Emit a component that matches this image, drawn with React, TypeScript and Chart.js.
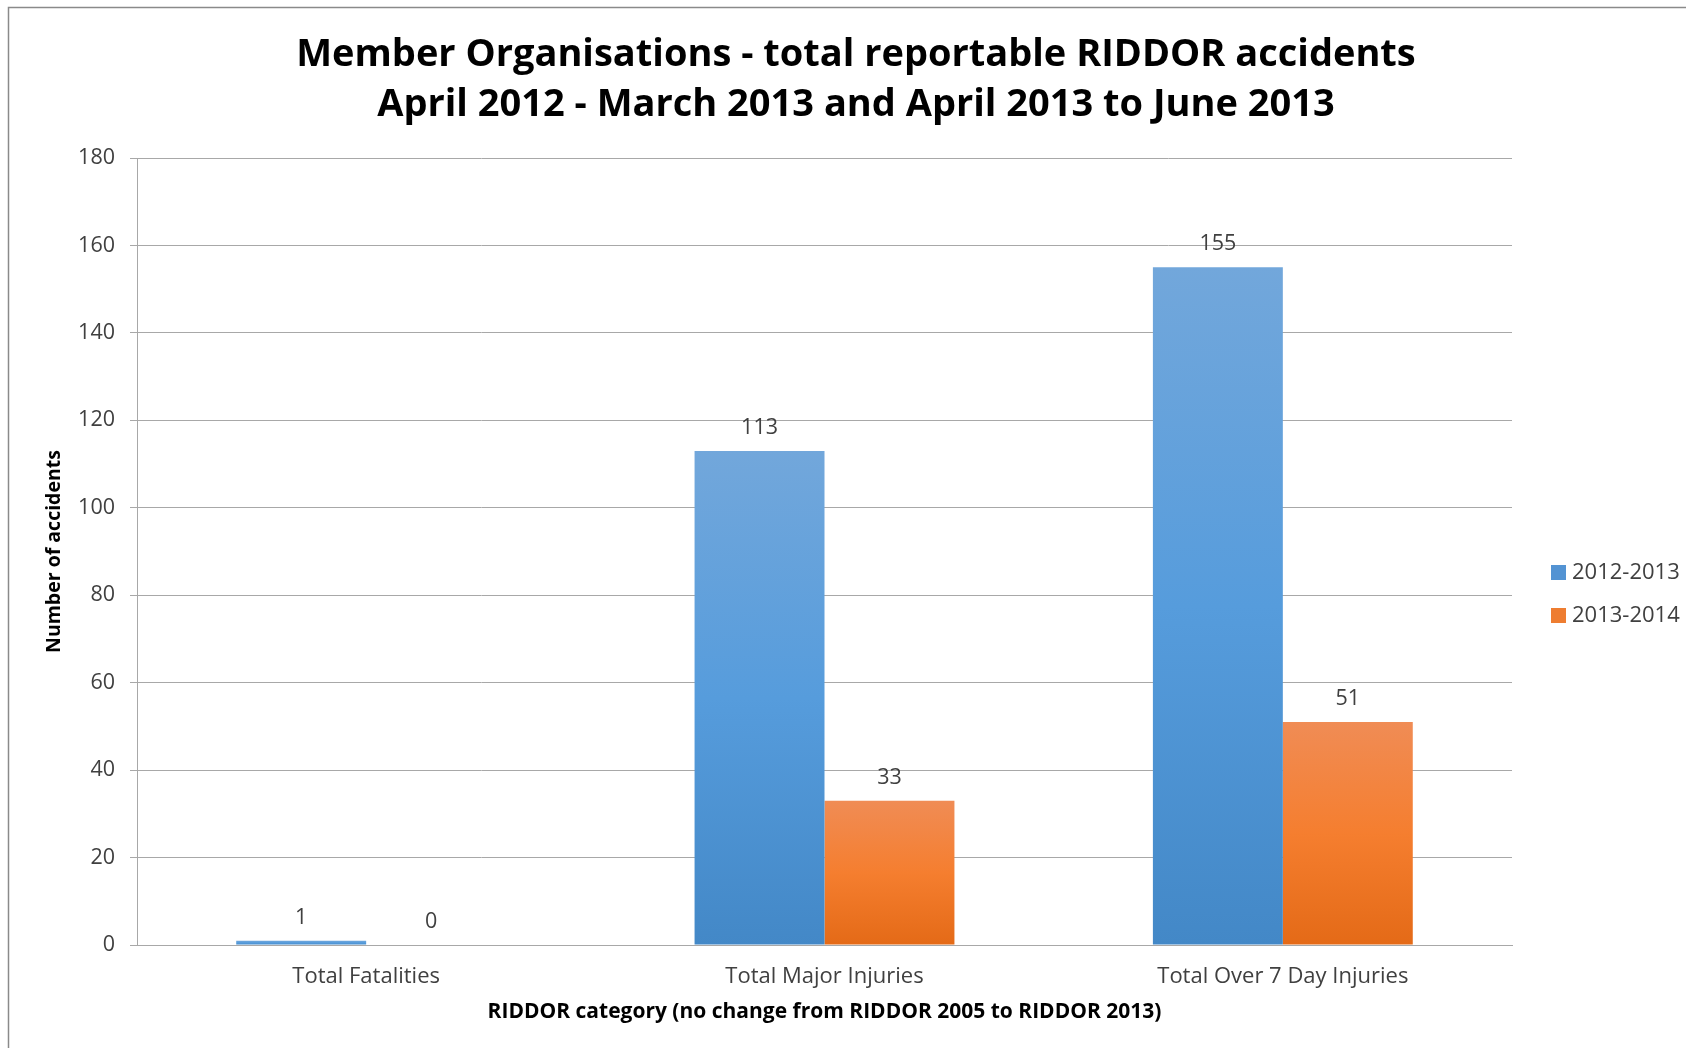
import React, { useEffect, useRef } from "react";
import { Chart, registerables } from "chart.js";

Chart.register(...registerables);

const titleLines = [
  "Member Organisations - total reportable RIDDOR accidents",
  "April 2012 - March 2013 and April 2013 to June 2013",
];
const categories = ["Total Fatalities", "Total Major Injuries", "Total Over 7 Day Injuries"];
const seriesNames = ["2012-2013", "2013-2014"];
const values2012 = [1, 113, 155];
const values2013 = [0, 33, 51];
const yTicks = [0, 20, 40, 60, 80, 100, 120, 140, 160, 180];
const xTitle = "RIDDOR category (no change from RIDDOR 2005 to RIDDOR 2013)";
const yTitle = "Number of accidents";

const FONT = "'Open Sans', Lato, 'Noto Sans', sans-serif";
const TEXT = "#404040";
const GRID = "#a8a8a8";

const blueStops = ["#72a7db", "#569cdc", "#4388c7"];
const orangeStops = ["#f08c55", "#f57e2f", "#e46a17"];
const legendColors = ["#5393d3", "#ee7d31"];

function gradientFill(stops: string[], solid: string) {
  return (ctx: any) => {
    const chart = ctx.chart;
    if (ctx.type !== "data" || !chart.chartArea || !chart.scales.y) return solid;
    const y = chart.scales.y;
    const top = y.getPixelForValue(ctx.raw);
    const bottom = y.getPixelForValue(0);
    if (!isFinite(top) || Math.abs(bottom - top) < 1) return solid;
    const g = chart.ctx.createLinearGradient(0, top, 0, bottom);
    g.addColorStop(0, stops[0]);
    g.addColorStop(0.5, stops[1]);
    g.addColorStop(1, stops[2]);
    return g;
  };
}

const framePlugin = {
  id: "frame",
  beforeDraw(chart: any) {
    const c = chart.ctx;
    c.save();
    c.fillStyle = "#ffffff";
    c.fillRect(0, 0, chart.width, chart.height);
    c.strokeStyle = "#8a8a8a";
    c.lineWidth = 1.5;
    c.beginPath();
    c.moveTo(8.5, chart.height);
    c.lineTo(8.5, 7.5);
    c.lineTo(chart.width, 7.5);
    c.stroke();
    c.restore();
  },
};

const extrasPlugin = {
  id: "extras",
  afterDatasetsDraw(chart: any) {
    const c = chart.ctx;
    c.save();
    c.font = `21.5px ${FONT}`;
    c.fillStyle = TEXT;
    c.textAlign = "center";
    c.textBaseline = "middle";
    chart.data.datasets.forEach((ds: any, di: number) => {
      const meta = chart.getDatasetMeta(di);
      meta.data.forEach((el: any, i: number) => {
        c.fillText(String(ds.data[i]), el.x, el.y - 23);
      });
    });
    c.restore();
  },
  afterDraw(chart: any) {
    const c = chart.ctx;
    c.save();
    // title
    c.font = `bold 38px ${FONT}`;
    c.fillStyle = "#000000";
    c.textAlign = "center";
    c.textBaseline = "middle";
    c.fillText(titleLines[0], 856, 55);
    c.fillText(titleLines[1], 856, 105);
    // legend
    c.font = `22px ${FONT}`;
    c.textAlign = "left";
    seriesNames.forEach((name, i) => {
      const cy = 572 + i * 43;
      c.fillStyle = legendColors[i];
      c.fillRect(1551, cy - 7, 15, 15);
      c.fillStyle = TEXT;
      c.fillText(name, 1572, cy + 1);
    });
    c.restore();
  },
};

export default function App() {
  const ref = useRef<HTMLCanvasElement | null>(null);

  useEffect(() => {
    if (!ref.current) return;
    const chart = new Chart(ref.current, {
      type: "bar",
      data: {
        labels: categories,
        datasets: [
          {
            label: seriesNames[0],
            data: values2012,
            backgroundColor: gradientFill(blueStops, legendColors[0]),
            borderWidth: 0,
          },
          {
            label: seriesNames[1],
            data: values2013,
            backgroundColor: gradientFill(orangeStops, legendColors[1]),
            borderWidth: 0,
          },
        ],
      },
      options: {
        animation: false,
        responsive: true,
        maintainAspectRatio: false,
        layout: { padding: { left: 0, top: 158, right: 174, bottom: 0 } },
        datasets: { bar: { barPercentage: 1, categoryPercentage: 0.567 } },
        plugins: {
          legend: { display: false },
          title: { display: false },
          tooltip: { enabled: false },
        },
        scales: {
          x: {
            grid: { display: false, drawTicks: false },
            border: { display: true, color: GRID, width: 1 },
            ticks: { color: TEXT, font: { family: FONT, size: 22 }, padding: 19, maxRotation: 0 },
            title: {
              display: true,
              text: xTitle,
              color: "#000000",
              font: { family: FONT, size: 21, weight: "bold" },
              padding: { top: 0, bottom: 23 },
            },
            afterFit: (s: any) => {
              s.height = 103;
            },
          },
          y: {
            min: 0,
            max: 180,
            afterBuildTicks: (s: any) => {
              s.ticks = yTicks.map((v) => ({ value: v }));
            },
            grid: { color: GRID, lineWidth: 1, tickLength: 7, drawTicks: true },
            border: { display: true, color: GRID, width: 1 },
            ticks: { color: TEXT, font: { family: FONT, size: 21.5 }, padding: 15 },
            title: {
              display: true,
              text: yTitle,
              color: "#000000",
              font: { family: FONT, size: 19.5, weight: "bold" },
              padding: { top: 43, bottom: 0 },
            },
            afterFit: (s: any) => {
              s.width = 137;
            },
          },
        },
      },
      plugins: [framePlugin, extrasPlugin],
    } as any);
    return () => chart.destroy();
  }, []);

  return (
    <div style={{ position: "absolute", left: 0, top: 0, width: 1686, height: 1048, background: "#fff" }}>
      <canvas ref={ref} />
    </div>
  );
}
